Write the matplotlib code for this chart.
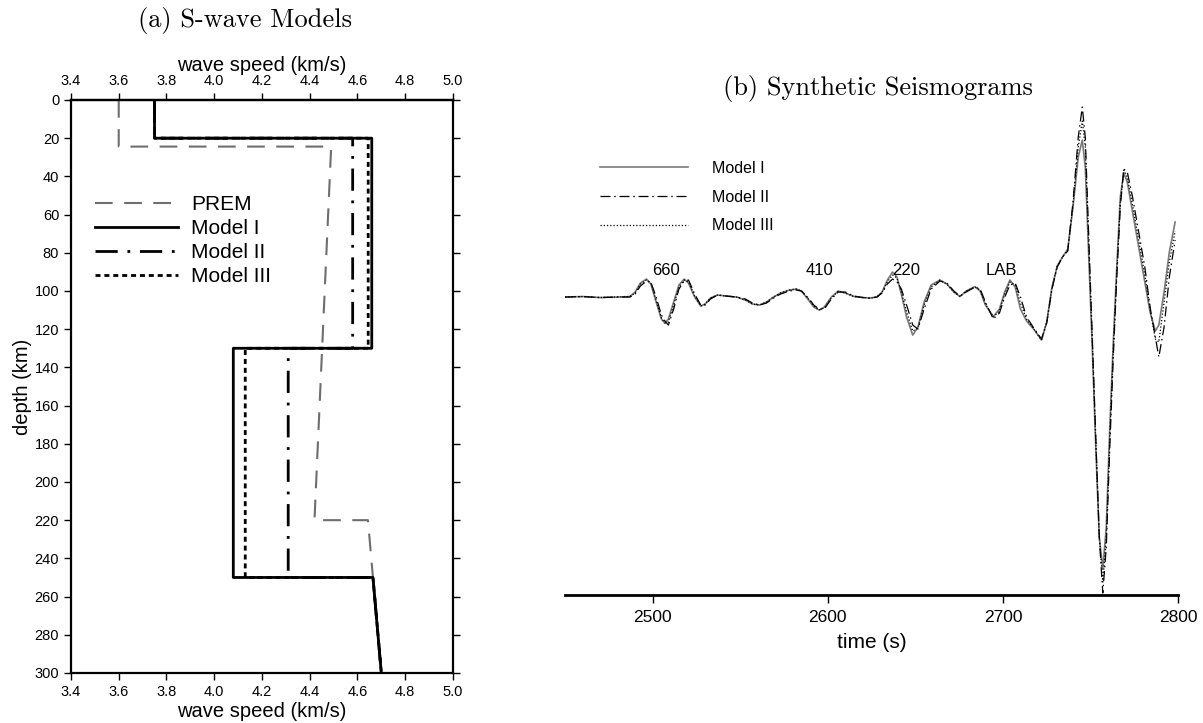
import matplotlib
matplotlib.use("Agg")
import matplotlib.pyplot as plt

plt.rcParams['font.family'] = ['Liberation Sans', 'DejaVu Sans']

# ---- (a) shear-wave velocity profiles ----
prem_depth = [0, 24.4, 24.4, 80, 220, 220, 300]
prem_vs = [3.60, 3.60, 4.49, 4.47, 4.42, 4.644, 4.70]

model_depth = [0, 20, 20, 130, 130, 250, 250, 300]
model1_vs = [3.75, 3.75, 4.66, 4.66, 4.08, 4.08, 4.665, 4.70]
model2_vs = [3.75, 3.75, 4.58, 4.58, 4.31, 4.31, 4.665, 4.70]
model3_vs = [3.75, 3.75, 4.645, 4.645, 4.13, 4.13, 4.665, 4.70]

speed_ticks = [3.4, 3.6, 3.8, 4.0, 4.2, 4.4, 4.6, 4.8, 5.0]
depth_ticks = list(range(0, 301, 20))

# ---- (b) synthetic seismograms (arbitrary amplitude) ----
t = [2450, 2460, 2470, 2480, 2487, 2490, 2493, 2496.5, 2499, 2502,
     2505, 2507, 2509, 2512, 2515, 2518, 2520.5, 2524, 2527.5, 2530,
     2533, 2537, 2542, 2548, 2553, 2557, 2561, 2565, 2569, 2573,
     2578, 2582, 2585, 2589, 2592, 2595, 2598, 2602, 2606, 2610,
     2615, 2620, 2624, 2628, 2631, 2634, 2637, 2639.5, 2642, 2645,
     2648.5, 2651.5, 2655, 2659, 2664, 2668, 2672, 2675.5, 2679, 2684,
     2687, 2690, 2694.5, 2698, 2701, 2704, 2707, 2710, 2713.5, 2718,
     2722, 2725, 2728, 2731, 2734, 2737, 2740, 2743, 2745.3, 2747,
     2749, 2751, 2753, 2755, 2757, 2759, 2761, 2763, 2765, 2767,
     2769, 2771, 2774, 2777, 2781, 2784, 2787, 2789, 2792, 2795,
     2798.3]

seis1 = [0, 0.5, -0.5, 0, 0.5, 5, 14, 18, 13, -5,
         -22, -26, -22, -5, 12, 18, 14, 0, -9, -7,
         -1, 2, 1, 0, -3, -7, -8, -5, 0, 4,
         7, 8, 6, -3, -10, -13, -10, 0, 6, 4,
         0.5, -0.5, -1, 0, 5, 17, 25, 20, 3, -20,
         -38, -30, -5, 12, 17, 13, 5, 0.5, 6, 10.5,
         6, -8, -19.5, -12, 5, 17, 10, -12, -24, -33,
         -43, -25, 10, 31, 40, 48, 90, 140, 157, 130,
         40, -50, -150, -240, -272, -230, -130, -45, 30, 100,
         124, 115, 85, 55, 15, -15, -34, -28, 5, 45,
         75]

seis2 = [0, 0.5, -0.5, 0, 0, 3, 11, 16, 15, 0,
         -18, -24, -28, -12, 8, 16, 17, 3, -8, -8,
         -2, 2, 1, 0, -2, -6, -8, -6, -1, 3,
         6, 7, 6, -1, -8, -12, -12, -2, 5, 5,
         1, -0.5, -1, 0, 4, 13, 18, 15, 8, -8,
         -28, -32, -12, 8, 16, 14, 6, 1, 5, 10,
         8, -5, -22, -16, 0, 12, 14, 0, -20, -32,
         -42, -26, 8, 30, 40, 46, 95, 160, 190, 160,
         60, -40, -140, -240, -296, -250, -150, -60, 20, 90,
         128, 125, 100, 70, 30, -10, -40, -60, -30, 20,
         57]

seis3 = [0, 0.5, -0.5, 0, 0.5, 4, 13, 17, 14, -3,
         -21, -26, -25, -8, 10, 17, 15, 1, -9, -7,
         -1, 2, 1, 0, -3, -7, -8, -5, 0, 4,
         7, 8, 6, -2, -9, -13, -11, -1, 6, 4,
         0.5, -0.5, -1, 0, 5, 15, 22, 19, 5, -15,
         -34, -31, -8, 10, 17, 13, 5, 0.5, 6, 10,
         7, -7, -20, -14, 3, 15, 12, -6, -22, -33,
         -43, -25, 9, 31, 40, 47, 92, 150, 176, 150,
         50, -45, -145, -240, -285, -240, -140, -52, 25, 95,
         127, 120, 92, 62, 22, -12, -42, -45, -5, 35,
         66]

phase_names = ['660', '410', '220', 'LAB']
phase_times = [2507.4, 2595.4, 2644.9, 2698.9]
phase_level = 26.5

time_ticks = [2500, 2600, 2700, 2800]

fig = plt.figure(figsize=(12.03, 7.23), dpi=100)

# left panel: velocity vs depth
ax1 = fig.add_axes([0.059, 0.0692, 0.3175, 0.7925])
ax1.plot(prem_vs, prem_depth, color='#6e6e6e', lw=1.5, dashes=(8.5, 5.5), label='PREM')
ax1.plot(model3_vs, model_depth, color='black', lw=2.0, dashes=(1.8, 1.4))
ax1.plot(model2_vs, model_depth, color='black', lw=2.0, dashes=(8, 3.5, 1, 3.5))
ax1.plot(model1_vs, model_depth, color='black', lw=2.0)

# legend handles in the order PREM, I, II, III
h_prem, h3, h2, h1 = ax1.get_lines()
leg1 = ax1.legend([h_prem, h1, h2, h3], ['PREM', 'Model I', 'Model II', 'Model III'],
                  loc='upper left', bbox_to_anchor=(95 / 1203, 1 - 195 / 723),
                  bbox_transform=fig.transFigure, frameon=False, fontsize=15,
                  handlelength=4.0, handletextpad=0.6, labelspacing=0.24,
                  borderpad=0, borderaxespad=0)

ax1.set_xlim(3.4, 5.0)
ax1.set_ylim(300, 0)
ax1.set_xticks(speed_ticks)
ax1.set_xticklabels([f'{v:.1f}' for v in speed_ticks])
ax1.set_yticks(depth_ticks)
ax1.tick_params(direction='out', length=5, width=1, labelsize=10.5,
                right=True, labelright=False, top=False)
ax1.set_xlabel('wave speed (km/s)', fontsize=14.5, labelpad=2)
ax1.set_ylabel('depth (km)', fontsize=14.5, labelpad=2)
for s in ax1.spines.values():
    s.set_linewidth(1.6)

top = ax1.secondary_xaxis('top')
top.set_xticks(speed_ticks)
top.set_xticklabels([f'{v:.1f}' for v in speed_ticks])
top.tick_params(direction='out', length=5, width=1, labelsize=10.5)
top.set_xlabel('wave speed (km/s)', fontsize=14.5, labelpad=2)
top.spines['top'].set_linewidth(1.6)

# right panel: seismograms
ax2 = fig.add_axes([0.4697, 0.177, 0.5096, 0.6846])
ax2.plot(t, seis1, color='#7a7a7a', lw=1.2, label='Model I')
ax2.plot(t, seis2, color='black', lw=0.9, dashes=(8, 3, 1.2, 3), label='Model II')
ax2.plot(t, seis3, color='black', lw=0.9, dashes=(1, 1.6), label='Model III')

for name, tp in zip(phase_names, phase_times):
    ax2.text(tp, phase_level, name, ha='center', va='center', fontsize=12)

ax2.legend(loc='upper left', bbox_to_anchor=(600 / 1203, 1 - 161 / 723),
           bbox_transform=fig.transFigure, frameon=False, fontsize=11.5,
           handlelength=5.5, handletextpad=1.5, labelspacing=0.85,
           borderpad=0, borderaxespad=0)

ax2.set_xlim(2450, 2800)
ax2.set_ylim(-298, 197)
ax2.set_xticks(time_ticks)
ax2.set_yticks([])
for side in ['left', 'right', 'top']:
    ax2.spines[side].set_visible(False)
ax2.spines['bottom'].set_linewidth(2.0)
ax2.tick_params(axis='x', direction='out', length=5.5, width=1, labelsize=12.5, pad=5)
ax2.set_xlabel('time (s)', fontsize=15, labelpad=6)

fig.text(245 / 1203, 1 - 20 / 723, '(a) S-wave Models', family='cmr10',
         fontsize=19, ha='center', va='center')
fig.text(878 / 1203, 1 - 88 / 723, '(b) Synthetic Seismograms', family='cmr10',
         fontsize=19, ha='center', va='center')

fig.savefig('out.png', dpi=100)
